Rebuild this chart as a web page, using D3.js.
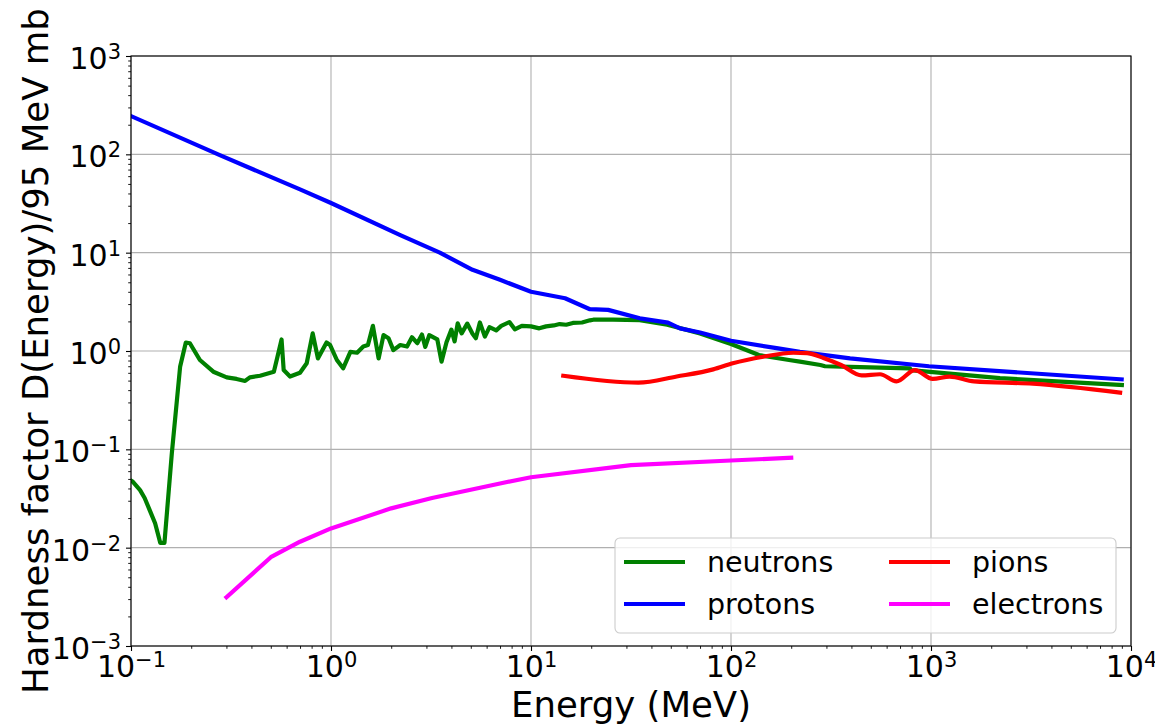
<!DOCTYPE html>
<html>
<head>
<meta charset="utf-8">
<script src="https://cdn.jsdelivr.net/npm/d3@7"></script>
<style>
  body { margin: 0; background: #fff; }
  text { font-family: "DejaVu Sans", sans-serif; }
</style>
</head>
<body>
<script>
'use strict';

// neutrons: energy (MeV) and hardness factor
const neutronE = [0.100, 0.102, 0.111, 0.117, 0.124, 0.132, 0.140, 0.147, 0.160, 0.176, 0.188, 0.197,
  0.221, 0.258, 0.301, 0.337, 0.372, 0.393, 0.442, 0.518, 0.540, 0.566,
  0.580, 0.624, 0.700, 0.756, 0.810, 0.860, 0.950, 0.990, 1.07, 1.15,
  1.25, 1.35, 1.45, 1.53, 1.62, 1.73, 1.83, 1.94, 2.05, 2.22,
  2.40, 2.54, 2.70, 2.85, 2.96, 3.10, 3.40, 3.57, 3.78, 4.00,
  4.15, 4.30, 4.50, 4.80, 5.10, 5.30, 5.55, 5.88, 6.20, 6.70,
  7.10, 7.80, 8.30, 9.00, 10.0, 11.0, 11.9, 13.0, 13.9, 15.0,
  16.2, 18.0, 19.7, 20.5, 25.7, 35.0, 48.0, 70.0, 100, 138,
  195, 221, 280, 295, 394, 785, 790, 2213, 9000];
const neutronD = [0.048, 0.047, 0.0385, 0.032, 0.0241, 0.0177, 0.0112, 0.0112, 0.091, 0.69, 1.22, 1.20,
  0.81, 0.616, 0.54, 0.52, 0.496, 0.54, 0.56, 0.616, 0.875, 1.31,
  0.64, 0.55, 0.60, 0.75, 1.51, 0.84, 1.22, 1.15, 0.81, 0.667,
  0.98, 0.96, 1.11, 1.15, 1.80, 0.84, 1.45, 1.35, 1.02, 1.15,
  1.11, 1.38, 1.20, 1.47, 1.10, 1.45, 1.31, 0.78, 1.23, 1.65,
  1.25, 1.91, 1.51, 1.90, 1.50, 1.35, 1.95, 1.40, 1.75, 1.62,
  1.80, 1.97, 1.66, 1.80, 1.78, 1.70, 1.78, 1.82, 1.88, 1.85,
  1.93, 1.95, 2.05, 2.08, 2.08, 2.06, 1.85, 1.51, 1.18, 0.91,
  0.81, 0.78, 0.72, 0.70, 0.69, 0.667, 0.64, 0.53, 0.45];

// protons
const protonE = [0.1, 0.278, 0.7, 1, 2.22, 3.5, 5.1, 7, 10, 14.8,
  19.7, 24.3, 35, 48.4, 55.6, 70, 100, 169, 221, 394,
  977, 2390, 8980];
const protonD = [245, 98, 44, 32, 15.1, 10, 6.7, 5.3, 4.0, 3.44,
  2.66, 2.62, 2.15, 1.94, 1.70, 1.54, 1.27, 1.07, 0.98, 0.84,
  0.70, 0.617, 0.515];

// pions
const pionE = [14.5, 34.4, 53.5, 81.5, 102, 145, 205, 240, 290, 355,
  450, 556, 672, 830, 1020, 1240, 1640, 3230, 8820];
const pionD = [0.56, 0.476, 0.55, 0.65, 0.75, 0.875, 0.96, 0.95, 0.85, 0.72,
  0.565, 0.58, 0.49, 0.64, 0.52, 0.55, 0.49, 0.465, 0.377];

// electrons
const electronE = [0.30, 0.50, 0.70, 1.0, 2.0, 3.2, 7.0, 10, 31.6, 100, 200];
const electronD = [0.00313, 0.0080, 0.0115, 0.0157, 0.0251, 0.032, 0.045, 0.052, 0.069, 0.077, 0.082];

const xTicks = [1e-1, 1e0, 1e1, 1e2, 1e3, 1e4];
const xExponents = ["\u22121", "0", "1", "2", "3", "4"];
const yTicks = [1e-3, 1e-2, 1e-1, 1e0, 1e1, 1e2, 1e3];
const yExponents = ["\u22123", "\u22122", "\u22121", "0", "1", "2", "3"];

const seriesNames = ["neutrons", "protons", "pions", "electrons"];
const seriesColors = ["#008000", "#0000ff", "#ff0000", "#ff00ff"];

(function() {
  const width = 1155, height = 724;
  const mLeft = 131, mTop = 56, plotW = 1000, plotH = 590;

  const svg = d3.select("body").append("svg")
    .attr("width", width)
    .attr("height", height);

  const x = d3.scaleLog().domain([0.1, 1e4]).range([mLeft, mLeft + plotW]);
  const y = d3.scaleLog().domain([1e-3, 1e3]).range([mTop + plotH, mTop]);

  // minor tick values (2..9 per decade)
  function minors(lo, hi) {
    let out = [];
    for (let e = lo; e < hi; e++) {
      for (let k = 2; k <= 9; k++) out.push(k * Math.pow(10, e));
    }
    return out;
  }

  // grid
  svg.append("g").selectAll("line").data(xTicks).enter().append("line")
    .attr("x1", d => x(d)).attr("x2", d => x(d))
    .attr("y1", mTop).attr("y2", mTop + plotH)
    .attr("stroke", "#b0b0b0").attr("stroke-width", 1.1);
  svg.append("g").selectAll("line").data(yTicks).enter().append("line")
    .attr("y1", d => y(d)).attr("y2", d => y(d))
    .attr("x1", mLeft).attr("x2", mLeft + plotW)
    .attr("stroke", "#b0b0b0").attr("stroke-width", 1.1);

  // data lines
  svg.append("clipPath").attr("id", "clip")
    .append("rect").attr("x", mLeft).attr("y", mTop).attr("width", plotW).attr("height", plotH);

  const series = [
    { e: neutronE, d: neutronD, curve: d3.curveLinear },
    { e: protonE, d: protonD, curve: d3.curveLinear },
    { e: pionE, d: pionD, curve: d3.curveMonotoneX },
    { e: electronE, d: electronD, curve: d3.curveLinear }
  ];

  const linesG = svg.append("g").attr("clip-path", "url(#clip)");
  series.forEach((s, i) => {
    let pts = s.e.map((v, j) => [v, s.d[j]]);
    let line = d3.line()
      .x(p => x(p[0]))
      .y(p => y(p[1]))
      .curve(s.curve);
    linesG.append("path")
      .attr("d", line(pts))
      .attr("fill", "none")
      .attr("stroke", seriesColors[i])
      .attr("stroke-width", 4.2)
      .attr("stroke-linejoin", "round")
      .attr("stroke-linecap", "square");
  });

  // axes
  function styleAxis(g) {
    g.select(".domain").remove();
    g.selectAll(".tick line").attr("stroke", "#000").attr("stroke-width", 1.1);
  }

  function addPowers(g, exps, tickVals) {
    g.selectAll(".tick text").each(function(d) {
      let t = d3.select(this);
      let i = tickVals.indexOf(d);
      t.text(null)
        .attr("fill", "#000")
        .style("font-size", "30px");
      t.append("tspan").text("10");
      t.append("tspan").text(exps[i])
        .style("font-size", "21px")
        .attr("dy", "-10");
    });
  }

  const xAxisG = svg.append("g")
    .attr("transform", `translate(0,${mTop + plotH})`)
    .call(d3.axisBottom(x).tickValues(xTicks).tickSize(5).tickPadding(5).tickFormat(() => ""));
  styleAxis(xAxisG);
  addPowers(xAxisG, xExponents, xTicks);

  const xMinorG = svg.append("g")
    .attr("transform", `translate(0,${mTop + plotH})`)
    .call(d3.axisBottom(x).tickValues(minors(-1, 4)).tickSize(2.8).tickFormat(() => ""));
  styleAxis(xMinorG);
  xMinorG.selectAll(".tick line").attr("stroke-width", 0.9);

  const yAxisG = svg.append("g")
    .attr("transform", `translate(${mLeft},0)`)
    .call(d3.axisLeft(y).tickValues(yTicks).tickSize(5).tickPadding(5).tickFormat(() => ""));
  styleAxis(yAxisG);
  addPowers(yAxisG, yExponents, yTicks);
  yAxisG.selectAll(".tick text").attr("dy", "0.42em");

  const yMinorG = svg.append("g")
    .attr("transform", `translate(${mLeft},0)`)
    .call(d3.axisLeft(y).tickValues(minors(-3, 3)).tickSize(2.8).tickFormat(() => ""));
  styleAxis(yMinorG);
  yMinorG.selectAll(".tick line").attr("stroke-width", 0.9);

  // spines
  svg.append("rect")
    .attr("x", mLeft).attr("y", mTop)
    .attr("width", plotW).attr("height", plotH)
    .attr("fill", "none")
    .attr("stroke", "#000")
    .attr("stroke-width", 1.1);

  // axis labels
  svg.append("text")
    .attr("x", mLeft + plotW / 2)
    .attr("y", 717)
    .attr("text-anchor", "middle")
    .style("font-size", "35.5px")
    .text("Energy (MeV)");

  svg.append("text")
    .attr("transform", `translate(48,${mTop + plotH / 2}) rotate(-90)`)
    .attr("text-anchor", "middle")
    .style("font-size", "35.5px")
    .text("Hardness factor D(Energy)/95 MeV mb");

  // legend
  const legend = svg.append("g");
  legend.append("rect")
    .attr("x", 615).attr("y", 538)
    .attr("width", 501).attr("height", 95)
    .attr("rx", 5)
    .attr("fill", "#fff").attr("fill-opacity", 0.8)
    .attr("stroke", "#cccccc").attr("stroke-width", 1.1);

  const legendPos = [[624, 562], [624, 604], [889, 562], [889, 604]];
  seriesNames.forEach((name, i) => {
    let p = legendPos[i];
    legend.append("line")
      .attr("x1", p[0]).attr("x2", p[0] + 61)
      .attr("y1", p[1]).attr("y2", p[1])
      .attr("stroke", seriesColors[i])
      .attr("stroke-width", 4.2);
    legend.append("text")
      .attr("x", p[0] + 83)
      .attr("y", p[1])
      .attr("dy", "0.36em")
      .style("font-size", "28.5px")
      .text(name);
  });
})();
</script>
</body>
</html>
